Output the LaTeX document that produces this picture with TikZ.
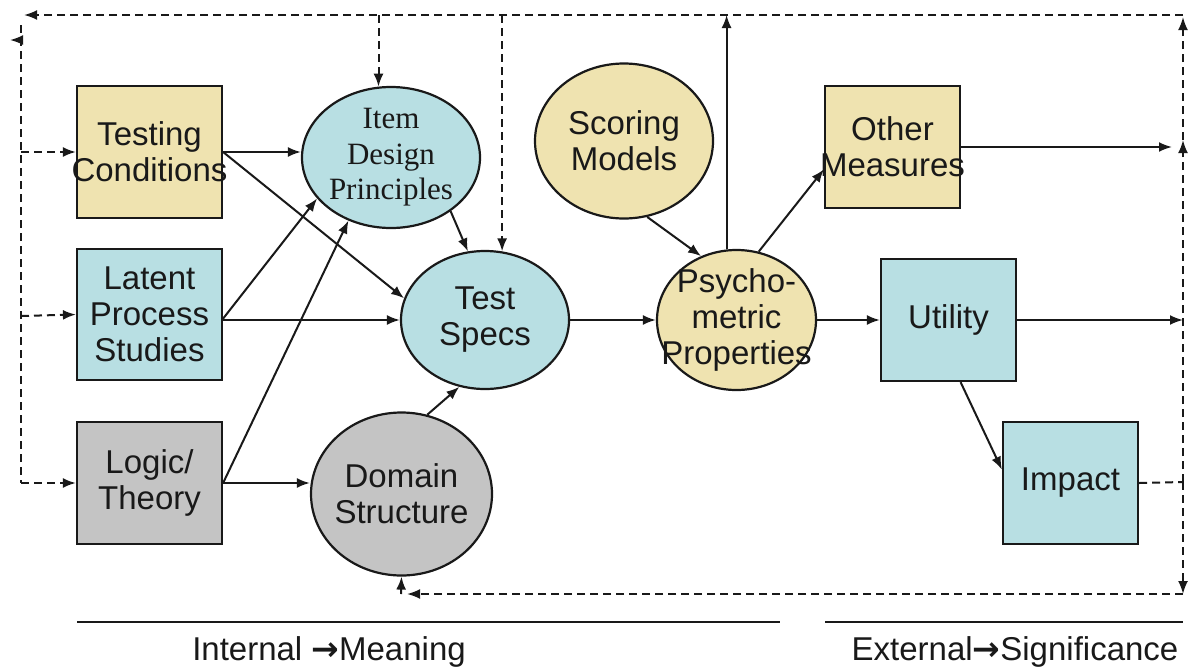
\documentclass[tikz,border=0pt]{standalone}
\usepackage{fontspec}
\setmainfont{Liberation Sans}
\newfontfamily\serifface{Liberation Serif}
\newfontfamily\symface{DejaVu Sans}
\usetikzlibrary{shapes.geometric,arrows.meta}
\definecolor{boxbeige}{RGB}{239,227,176}
\definecolor{boxblue}{RGB}{184,223,227}
\definecolor{boxgray}{RGB}{196,196,196}
\definecolor{ink}{RGB}{25,25,25}
\begin{document}
\begin{tikzpicture}[x=1pt,y=-1pt,
  base/.style={draw=ink, line width=2.2pt},
  box/.style={base, rectangle, inner sep=0pt},
  oval/.style={base, ellipse, inner sep=0pt},
  txt/.style={align=center, inner sep=0pt, text=ink, font=\fontsize{33}{36}\selectfont},
  stxt/.style={align=center, inner sep=0pt, text=ink, font=\serifface\fontsize{31}{35.5}\selectfont},
  lbl/.style={inner sep=0pt, text=ink, font=\fontsize{33}{36}\selectfont},
  arr/.style={draw=ink, line width=2pt, -{Latex[length=13pt,width=10pt]}},
  dsh/.style={arr, dash pattern=on 8pt off 5pt},
  rule/.style={draw=ink, line width=2pt}]

\fill[white] (0,0) rectangle (1202,670);
\useasboundingbox (0,0) rectangle (1202,670);

% left column of inputs
\node[box, fill=boxbeige, minimum width=145pt, minimum height=132pt,
  label={[txt]center:Testing\\Conditions}] (tc) at (149.5,152) {};
\node[box, fill=boxblue, minimum width=145pt, minimum height=131pt,
  label={[txt]center:Latent\\Process\\Studies}] (lps) at (149.5,314.5) {};
\node[box, fill=boxgray, minimum width=145pt, minimum height=122pt,
  label={[txt]center:Logic/\\Theory}] (lt) at (149.5,483) {};

% inner ovals
\node[oval, fill=boxblue, minimum width=178pt, minimum height=141pt,
  label={[stxt]center:Item\\Design\\Principles}] (idp) at (391,157.5) {};
\node[oval, fill=boxblue, minimum width=168pt, minimum height=138pt,
  label={[txt]center:Test\\Specs}] (ts) at (485,320) {};
\node[oval, fill=boxgray, minimum width=181pt, minimum height=163pt,
  label={[txt]center:Domain\\Structure}] (dom) at (401.5,494) {};
\node[oval, fill=boxbeige, minimum width=178pt, minimum height=155pt,
  label={[txt]center:Scoring\\Models}] (sm) at (624,141) {};
\node[oval, fill=boxbeige, minimum width=159pt, minimum height=140pt,
  label={[txt]center:Psycho-\\metric\\Properties}] (pp) at (736.5,320) {};

% external boxes
\node[box, fill=boxbeige, minimum width=135pt, minimum height=122pt,
  label={[txt]center:Other\\Measures}] (om) at (892.5,147) {};
\node[box, fill=boxblue, minimum width=135pt, minimum height=122pt,
  label={[txt]center:Utility}] (ut) at (948.5,320) {};
\node[box, fill=boxblue, minimum width=135pt, minimum height=122pt,
  label={[txt]center:Impact}] (im) at (1070.5,483) {};

% frame of the feedback loop
\coordinate (tr) at (1183,15);
\coordinate (rimp) at (1183,482);
\coordinate (rom) at (1183,140);
\coordinate (br) at (1183,594);
\coordinate (bdom) at (401,594);
\coordinate (omend) at (1172,147);
\coordinate (utend) at (1183,320);
\coordinate (lpsout) at (222,320);

% solid influences
\draw[arr] (tc.east) -- (tc.east -| idp.west);
\draw[arr] (tc.east) -- (ts.165);
\draw[arr] (lpsout) -- (idp.209);
\draw[arr] (lpsout) -- (ts.west);
\draw[arr] (lt.east) -- (idp.236);
\draw[arr] (lt.east) -- (lt.east -| dom.west);
\draw[arr] (idp.-42) -- (ts.104);
\draw[arr] (dom.72) -- (ts.249);
\draw[arr] (ts.east) -- (pp.west);
\draw[arr] (sm.-73) -- (pp.119);
\draw[arr] (pp.98) -- (pp.98 |- tr);
\draw[arr] (pp.72) -- (om.198);
\draw[arr] (pp.east) -- (ut.west);
\draw[arr] (om.east) -- (omend);
\draw[arr] (ut.east) -- (utend);
\draw[arr] (ut.-79) -- (im.169);

% dashed feedback
\draw[dsh, -] (im.east) -- (rimp);
\draw[dsh] (rimp) -- (rom);
\draw[dsh] (rom) -- (1183,17);
\draw[dsh] (rimp) -- (br);
\draw[dsh] (br) -- (407,594);
\draw[dsh] (bdom) -- (dom.south);
\draw[dsh] (tr) -- (24,15);
\draw[dsh] (idp.100 |- tr) -- (idp.100);
\draw[dsh] (ts.76 |- tr) -- (ts.76);
\draw[dsh, -] (21,25) -- (21,483);
\draw[dsh] (21,40) -- (10,40);
\draw[dsh] (21,152) -- (tc.west);
\draw[dsh] (21,316) -- (lps.west);
\draw[dsh] (21,483) -- (lt.west);

% section rules and captions
\draw[rule] (77,622) coordinate (ia) -- (780,622) coordinate (ib);
\draw[rule] (825,622) coordinate (ea) -- (1183,622) coordinate (eb);
\node[lbl] (intl) at (329,652) {Internal {\symface\bfseries →}Meaning};
\node[lbl] (extl) at (1015,652) {External{\symface\bfseries →}Significance};
\end{tikzpicture}
\end{document}
